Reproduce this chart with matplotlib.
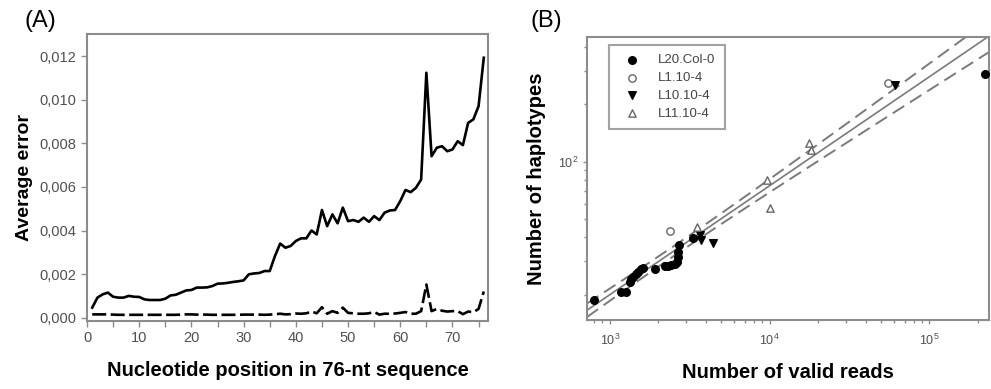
import numpy as np
import matplotlib
matplotlib.use("Agg")
import matplotlib.pyplot as plt
from matplotlib.ticker import NullFormatter

plt.rcParams['font.family'] = ['Liberation Sans', 'DejaVu Sans']

# ---------------- Panel A data ----------------
positions = list(range(1, 77))
error_solid = [
    0.00046, 0.00092, 0.00107, 0.00115, 0.00096, 0.00092, 0.00092, 0.00100, 0.00096, 0.00095,
    0.00084, 0.00081, 0.00081, 0.00081, 0.00087, 0.00102, 0.00105, 0.00115, 0.00125, 0.00127,
    0.00138, 0.00138, 0.00139, 0.00145, 0.00156, 0.00157, 0.00160, 0.00164, 0.00167, 0.00171,
    0.00199, 0.00203, 0.00205, 0.00214, 0.00214, 0.00283, 0.00340, 0.00321, 0.00329, 0.00352,
    0.00364, 0.00364, 0.00400, 0.00382, 0.00494, 0.00420, 0.00474, 0.00433, 0.00505, 0.00443,
    0.00448, 0.00440, 0.00459, 0.00440, 0.00466, 0.00448, 0.00482, 0.00492, 0.00494, 0.00535,
    0.00586, 0.00576, 0.00596, 0.00634, 0.01124, 0.00741, 0.00780, 0.00787, 0.00764, 0.00772,
    0.00810, 0.00792, 0.00894, 0.00910, 0.00971, 0.01193,
]
error_dashed = [
    0.00015, 0.00015, 0.00015, 0.00015, 0.00014, 0.00013, 0.00013, 0.00013, 0.00013, 0.00013,
    0.00013, 0.00013, 0.00013, 0.00013, 0.00013, 0.00013, 0.00013, 0.00014, 0.00015, 0.00015,
    0.00014, 0.00014, 0.00014, 0.00013, 0.00013, 0.00013, 0.00013, 0.00013, 0.00013, 0.00014,
    0.00014, 0.00014, 0.00014, 0.00013, 0.00014, 0.00016, 0.00018, 0.00015, 0.00016, 0.00019,
    0.00018, 0.00020, 0.00028, 0.00020, 0.00048, 0.00018, 0.00030, 0.00022, 0.00046, 0.00022,
    0.00020, 0.00018, 0.00018, 0.00020, 0.00026, 0.00014, 0.00018, 0.00018, 0.00019, 0.00022,
    0.00026, 0.00018, 0.00018, 0.00030, 0.00152, 0.00030, 0.00040, 0.00032, 0.00028, 0.00030,
    0.00030, 0.00016, 0.00028, 0.00025, 0.00040, 0.00120,
]
a_yticks = [0.0, 0.002, 0.004, 0.006, 0.008, 0.010, 0.012]
a_yticklabels = ['0,000', '0,002', '0,004', '0,006', '0,008', '0,010', '0,012']
a_xticks = [0, 10, 20, 30, 40, 50, 60, 70]

# ---------------- Panel B data ----------------
col0_reads = [794, 1183, 1271, 1333, 1365, 1397, 1452, 1501, 1576, 1612, 1906,
              2203, 2309, 2422, 2541, 2625, 2664, 2664, 2704, 3335, 222000]
col0_haps = [18.7, 20.7, 20.6, 23.4, 24.1, 24.8, 25.6, 26.4, 27.2, 27.5, 27.2,
             28.2, 28.3, 28.6, 28.9, 29.8, 31.6, 33.6, 36.5, 39.5, 290]
l1_reads = [2365, 54700]
l1_haps = [43.2, 259]
l10_reads = [3673, 3727, 4446, 61100]
l10_haps = [41.1, 38.7, 37.2, 253]
l11_reads = [3500, 9680, 10070, 17600, 18060]
l11_haps = [45.5, 80.1, 56.9, 125, 115]
series_names = ['L20.Col-0', 'L1.10-4', 'L10.10-4', 'L11.10-4']

# power-law fit (log10 haplotypes = intercept + slope * log10 reads) and band
fit_slope = 0.573
fit_intercept = -0.418
band_center = 3.45
band_c0 = 0.026
band_c1 = 0.0415

# ---------------- Figure ----------------
fig = plt.figure(figsize=(9.91, 3.89), dpi=100)
frame_col = '#8c8c8c'
tick_col = '#505050'

axA = fig.add_axes([0.0878, 0.175, 0.4046, 0.7376])
axA.plot(positions, error_solid, color='black', lw=1.9, solid_joinstyle='round')
axA.plot(positions, error_dashed, color='black', lw=1.9, dashes=(5.3, 1.7))
axA.set_xlim(0, 76.8)
axA.set_ylim(-0.00015, 0.01302)
axA.set_yticks(a_yticks)
axA.set_yticklabels(a_yticklabels)
axA.set_xticks(a_xticks)
axA.set_xticks(np.arange(5, 80, 10), minor=True)
for s in axA.spines.values():
    s.set_color(frame_col)
    s.set_linewidth(1.5)
axA.tick_params(which='both', direction='out', length=4, width=1, color=frame_col,
                labelcolor=tick_col, labelsize=10.5)
axA.set_ylabel('Average error', fontsize=14, fontweight='bold', labelpad=5)
axA.set_xlabel('Nucleotide position in 76-nt sequence', fontsize=14.5, fontweight='bold', labelpad=11)
fig.text(0.025, 0.945, '(A)', fontsize=17, ha='left', va='center')

axB = fig.add_axes([0.5923, 0.177, 0.406, 0.728])
axB.set_xscale('log')
axB.set_yscale('log')
xlim = (720, 2.37e5)
ylim = (14.7, 453)
axB.set_xlim(*xlim)
axB.set_ylim(*ylim)

lx = np.linspace(np.log10(xlim[0]), np.log10(xlim[1]), 200)
ly = fit_intercept + fit_slope * lx
hw = np.sqrt(band_c0 ** 2 + (band_c1 * (lx - band_center)) ** 2)
line_col = '#7a7a7a'
axB.plot(10 ** lx, 10 ** ly, color=line_col, lw=1.2)
axB.plot(10 ** lx, 10 ** (ly + hw), color=line_col, lw=1.4, dashes=(7, 3.5))
axB.plot(10 ** lx, 10 ** (ly - hw), color=line_col, lw=1.4, dashes=(7, 3.5))

axB.scatter(col0_reads, col0_haps, s=30, marker='o', color='black', zorder=3, label=series_names[0])
axB.scatter(l1_reads, l1_haps, s=28, marker='o', facecolor='white', edgecolor='#666666',
            linewidth=1, zorder=3, label=series_names[1])
axB.scatter(l10_reads, l10_haps, s=30, marker='v', color='black', zorder=3, label=series_names[2])
axB.scatter(l11_reads, l11_haps, s=28, marker='^', facecolor='white', edgecolor='#666666',
            linewidth=1, zorder=3, label=series_names[3])

for s in axB.spines.values():
    s.set_color(frame_col)
    s.set_linewidth(1.5)
axB.yaxis.set_minor_formatter(NullFormatter())
axB.xaxis.set_minor_formatter(NullFormatter())
axB.tick_params(which='major', direction='out', length=3, width=1, color=frame_col,
                labelcolor=tick_col, labelsize=9)
axB.tick_params(which='minor', direction='out', length=2, width=1, color=frame_col)
axB.tick_params(axis='x', which='major', pad=6)
axB.set_ylabel('Number of haplotypes', fontsize=14.5, fontweight='bold', labelpad=8)
axB.set_xlabel('Number of valid reads', fontsize=14.5, fontweight='bold', labelpad=11)
fig.text(0.535, 0.945, '(B)', fontsize=17, ha='left', va='center')

leg = axB.legend(loc='upper left', bbox_to_anchor=(0.055, 0.972), frameon=True, fancybox=False,
                 fontsize=9.5, labelcolor='#444444', handletextpad=1.0, borderpad=0.7,
                 labelspacing=0.42, handlelength=2.0, borderaxespad=0)
leg.get_frame().set_edgecolor(frame_col)
leg.get_frame().set_linewidth(1.5)

fig.savefig('out.png', dpi=100)
